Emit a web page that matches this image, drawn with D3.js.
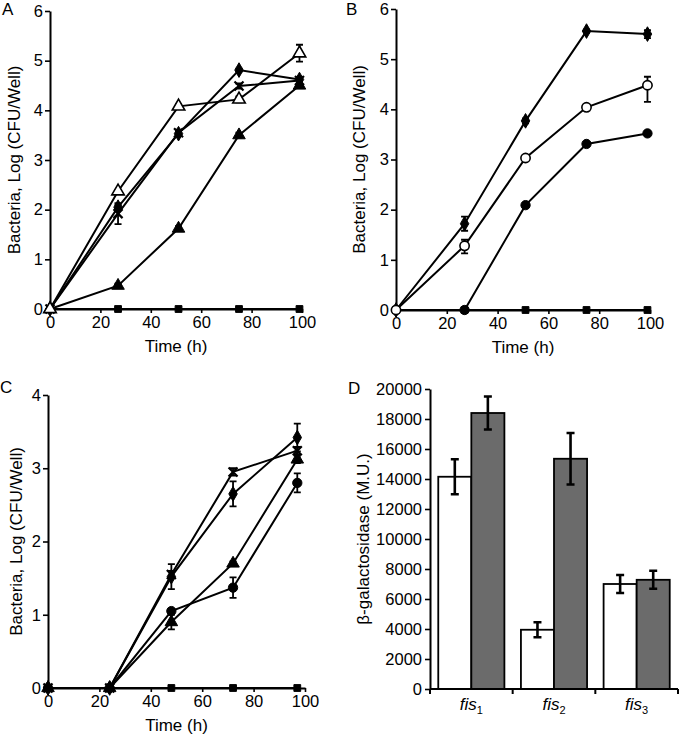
<!DOCTYPE html>
<html><head><meta charset="utf-8">
<script src="https://cdn.jsdelivr.net/npm/d3@7"></script>
<style>
body{margin:0;background:#fff}
svg{display:block}
text{font-family:"Liberation Sans",Arial,Helvetica,sans-serif;fill:#000}
</style>
</head><body>
<svg id="chart" width="680" height="738"></svg>
<script>
// ---------------- DATA ----------------
// Panel A (Time in h, log CFU/well)
const A_times = [0, 27, 51, 75, 99];
const A_openTri      = [0, 2.37, 4.08, 4.22, 5.15];
const A_openTri_err  = [0, 0.03, 0.04, 0.06, 0.17];
const A_diamond      = [0, 2.05, 3.53, 4.81, 4.62];
const A_diamond_err  = [0, 0.05, 0.05, 0.03, 0.05];
const A_cross        = [0, 1.92, 3.55, 4.49, 4.60];
const A_cross_err    = [0, 0.21, 0.06, 0.05, 0.05];
const A_fillTri      = [0, 0.47, 1.62, 3.50, 4.50];
const A_fillTri_err  = [0, 0.04, 0.05, 0.05, 0.05];
const A_square       = [0, 0, 0, 0, 0];

// Panel B
const B_times = [0, 27, 51, 75, 99];
const B_diamond      = [0, 1.72, 3.77, 5.56, 5.50];
const B_diamond_err  = [0, 0.14, 0.05, 0.03, 0.08];
const B_openCirc     = [0, 1.28, 3.03, 4.04, 4.48];
const B_openCirc_up  = [0, 0.12, 0.04, 0.04, 0.17];
const B_openCirc_dn  = [0, 0.15, 0.04, 0.04, 0.33];
const B_fillCirc_times = [27, 51, 75, 99];
const B_fillCirc     = [0, 2.09, 3.31, 3.52];
const B_square       = [0, 0, 0, 0, 0];

// Panel C
const C_times = [0, 24, 48, 72, 97];
const C_diamond      = [0, 0, 1.52, 2.65, 3.42];
const C_diamond_err  = [0, 0, 0.17, 0.17, 0.19];
const C_cross        = [0, 0, 1.55, 2.95, 3.24];
const C_cross_err    = [0, 0, 0.05, 0.05, 0.05];
const C_fillTri      = [0, 0, 0.90, 1.70, 3.12];
const C_fillTri_err  = [0, 0, 0.10, 0.03, 0.05];
const C_fillCirc     = [0, 0, 1.05, 1.37, 2.80];
const C_fillCirc_err = [0, 0, 0.03, 0.14, 0.13];
const C_square       = [0, 0, 0, 0, 0];

// Panel D (beta-galactosidase, M.U.)
const D_categories = ["1", "2", "3"];
const D_white      = [14150, 3950, 7000];
const D_white_err  = [1170, 500, 600];
const D_grey       = [18400, 15350, 7280];
const D_grey_err   = [1100, 1720, 600];

const xTicks = [0, 20, 40, 60, 80, 100];
const yTicksAB = [0, 1, 2, 3, 4, 5, 6];
const yTicksC = [0, 1, 2, 3, 4];
const yTicksD = d3.range(0, 20001, 2000);

// ---------------- DRAWING ----------------
const svg = d3.select("#chart");
const TICK_FS = 16.5;

function shapePath(shape) {
  switch (shape) {
    case "triangle": return d3.symbol().type(d3.symbolTriangle).size(68)();
    case "diamond":  return d3.symbol().type(d3.symbolDiamond).size(62)();
    case "square":   return d3.symbol().type(d3.symbolSquare).size(46)();
    case "circle":   return d3.symbol().type(d3.symbolCircle).size(68)();
    case "cross":    return "M-4.5,-4.5L4.5,4.5M4.5,-4.5L-4.5,4.5";
  }
}

function linePanel(cfg) {
  const g = svg.append("g");
  const x = d3.scaleLinear().domain([0, 100]).range(cfg.xr);
  const y = d3.scaleLinear().domain(cfg.yd).range(cfg.yr);

  const ya = g.append("g").attr("transform", `translate(${cfg.xr[0]},0)`)
    .call(d3.axisLeft(y).tickValues(cfg.yTicks).tickFormat(d3.format("d")).tickSize(5).tickPadding(2).tickSizeOuter(0));
  const xa = g.append("g").attr("transform", `translate(0,${cfg.yr[0]})`)
    .call(d3.axisBottom(x).tickValues(xTicks).tickFormat(d3.format("d")).tickSize(4).tickPadding(3).tickSizeOuter(0));
  [ya, xa].forEach(a => {
    a.attr("font-family", null);
    a.selectAll("path.domain").attr("stroke", "#000").attr("stroke-width", 2);
    a.selectAll(".tick line").attr("stroke", "#000").attr("stroke-width", 1.6);
    a.selectAll(".tick text").attr("font-size", TICK_FS).attr("fill", "#000");
  });

  const line = d3.line().x(d => x(d.t)).y(d => y(d.v));
  cfg.series.forEach(s => {
    const pts = s.times.map((t, i) => ({t, v: s.values[i], up: s.up ? s.up[i] : 0, dn: s.dn ? s.dn[i] : 0}));
    s.pts = pts;
    g.append("path").attr("d", line(pts)).attr("fill", "none")
      .attr("stroke", "#000").attr("stroke-width", 2);
  });
  cfg.series.forEach(s => {
    s.pts.forEach(p => {
      if (p.up > 0 || p.dn > 0) {
        const cx = x(p.t), yh = y(p.v + p.up), yl = y(p.v - p.dn);
        g.append("path").attr("d", `M${cx},${yh}V${yl}M${cx-3.5},${yh}H${cx+3.5}M${cx-3.5},${yl}H${cx+3.5}`)
          .attr("stroke", "#000").attr("stroke-width", 1.8).attr("fill", "none");
      }
    });
  });
  cfg.series.forEach(s => {
    s.pts.forEach(p => {
      const m = g.append("path").attr("d", shapePath(s.shape))
        .attr("transform", `translate(${x(p.t)},${y(p.v)})`);
      if (s.shape === "cross") m.attr("fill", "none").attr("stroke", "#000").attr("stroke-width", 2.2);
      else m.attr("fill", s.open ? "#fff" : "#000").attr("stroke", "#000").attr("stroke-width", s.open ? 1.6 : 1);
    });
  });

  // labels
  g.append("text").attr("x", (cfg.xr[0] + cfg.xr[1]) / 2).attr("y", cfg.yr[0] + 43)
    .attr("text-anchor", "middle").attr("font-size", 17).text("Time (h)");
  g.append("text").attr("transform", `translate(${cfg.ylabX},${(cfg.yr[0] + cfg.yr[1]) / 2}) rotate(-90)`)
    .attr("text-anchor", "middle").attr("font-size", 17).text("Bacteria, Log (CFU/Well)");
  g.append("text").attr("x", cfg.lab[0]).attr("y", cfg.lab[1]).attr("font-size", 17).text(cfg.letter);
}

linePanel({
  letter: "A", lab: [2, 15], xr: [50, 302], yr: [309, 11], yd: [0, 6], yTicks: yTicksAB, ylabX: 20,
  series: [
    {times: A_times, values: A_square, shape: "square"},
    {times: A_times, values: A_fillTri, up: A_fillTri_err, dn: A_fillTri_err, shape: "triangle"},
    {times: A_times, values: A_cross, up: A_cross_err, dn: A_cross_err, shape: "cross"},
    {times: A_times, values: A_diamond, up: A_diamond_err, dn: A_diamond_err, shape: "diamond"},
    {times: A_times, values: A_openTri, up: A_openTri_err, dn: A_openTri_err, shape: "triangle", open: true}
  ]
});

linePanel({
  letter: "B", lab: [346, 15], xr: [396, 650], yr: [310, 9], yd: [0, 6], yTicks: yTicksAB, ylabX: 365,
  series: [
    {times: B_times, values: B_square, shape: "square"},
    {times: B_fillCirc_times, values: B_fillCirc, shape: "circle"},
    {times: B_times, values: B_diamond, up: B_diamond_err, dn: B_diamond_err, shape: "diamond"},
    {times: B_times, values: B_openCirc, up: B_openCirc_up, dn: B_openCirc_dn, shape: "circle", open: true}
  ]
});

linePanel({
  letter: "C", lab: [0, 393], xr: [48, 305], yr: [688, 395], yd: [0, 4], yTicks: yTicksC, ylabX: 22,
  series: [
    {times: C_times, values: C_fillCirc, up: C_fillCirc_err, dn: C_fillCirc_err, shape: "circle"},
    {times: C_times, values: C_fillTri, up: C_fillTri_err, dn: C_fillTri_err, shape: "triangle"},
    {times: C_times, values: C_diamond, up: C_diamond_err, dn: C_diamond_err, shape: "diamond"},
    {times: C_times, values: C_cross, up: C_cross_err, dn: C_cross_err, shape: "cross"},
    {times: C_times, values: C_square, shape: "square"}
  ]
});

// Panel D
(function () {
  const g = svg.append("g");
  const x0 = 430, x1 = 678, yb = 689, yt = 389;
  const xb = d3.scaleBand().domain(D_categories).range([x0, x1]).paddingInner(0.2).paddingOuter(0.1);
  const xs = d3.scaleBand().domain(["white", "grey"]).range([0, xb.bandwidth()]);
  const y = d3.scaleLinear().domain([0, 20000]).range([yb, yt]);

  const ya = g.append("g").attr("transform", `translate(${x0},0)`)
    .call(d3.axisLeft(y).tickValues(yTicksD).tickFormat(d3.format("d")).tickSize(5).tickPadding(3).tickSizeOuter(0));
  ya.attr("font-family", null);
  ya.selectAll("path.domain").attr("stroke", "#000").attr("stroke-width", 2);
  ya.selectAll(".tick line").attr("stroke", "#000").attr("stroke-width", 1.6);
  ya.selectAll(".tick text").attr("font-size", TICK_FS).attr("fill", "#000");

  const data = D_categories.map((c, i) => [
    {c, k: "white", v: D_white[i], e: D_white_err[i]},
    {c, k: "grey", v: D_grey[i], e: D_grey_err[i]}
  ]).flat();

  g.selectAll("rect.bar").data(data).enter().append("rect")
    .attr("x", d => xb(d.c) + xs(d.k)).attr("width", xs.bandwidth())
    .attr("y", d => y(d.v)).attr("height", d => yb - y(d.v))
    .attr("fill", d => d.k === "white" ? "#fff" : "#6b6b6b")
    .attr("stroke", "#000").attr("stroke-width", 1.8);

  data.forEach(d => {
    const cx = xb(d.c) + xs(d.k) + xs.bandwidth() / 2;
    const yh = y(d.v + d.e), yl = y(d.v - d.e);
    g.append("path").attr("d", `M${cx},${yh}V${yl}M${cx-4},${yh}H${cx+4}M${cx-4},${yl}H${cx+4}`)
      .attr("stroke", "#000").attr("stroke-width", 2.6).attr("fill", "none");
  });

  // x axis with boundary ticks
  g.append("line").attr("x1", x0).attr("x2", x1).attr("y1", yb).attr("y2", yb)
    .attr("stroke", "#000").attr("stroke-width", 2);
  const step = xb.step();
  d3.range(D_categories.length + 1).forEach(i => {
    const bx = x0 + i * step;
    g.append("line").attr("x1", bx).attr("x2", bx).attr("y1", yb).attr("y2", yb + 5)
      .attr("stroke", "#000").attr("stroke-width", 2);
  });
  D_categories.forEach(c => {
    const t = g.append("text").attr("x", xb(c) + xb.bandwidth() / 2).attr("y", yb + 21)
      .attr("text-anchor", "middle").attr("font-size", 17);
    t.append("tspan").attr("font-style", "italic").text("fis");
    t.append("tspan").attr("font-size", 11).attr("dy", 4).text(c);
  });

  g.append("text").attr("transform", `translate(369,${(yb + yt) / 2}) rotate(-90)`)
    .attr("text-anchor", "middle").attr("font-size", 17).text("β-galactosidase (M.U.)");
  g.append("text").attr("x", 348).attr("y", 394).attr("font-size", 17).text("D");
})();
</script>
</body></html>
